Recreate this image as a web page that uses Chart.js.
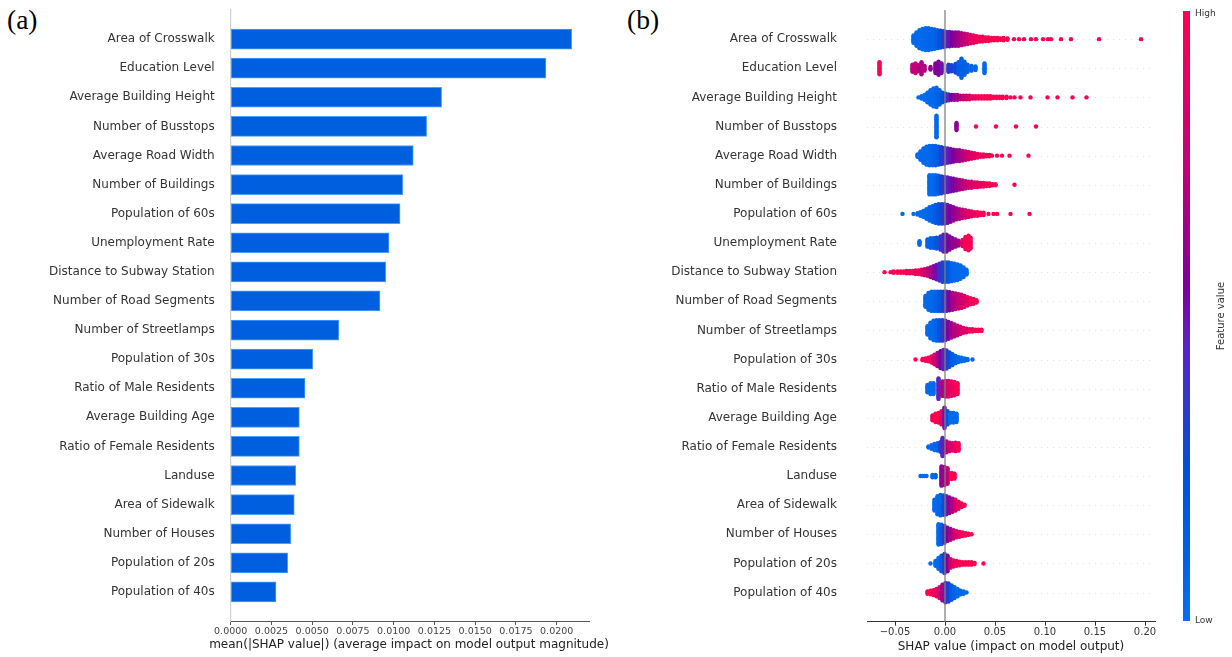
<!DOCTYPE html>
<html>
<head>
<meta charset="utf-8">
<script src="https://cdn.jsdelivr.net/npm/chart.js@4.4.0/dist/chart.umd.min.js"></script>
<style>
  html, body { margin: 0; padding: 0; background: #fff; width: 1232px; height: 657px; overflow: hidden; }
  .panel { position: absolute; top: 0; width: 616px; height: 657px; }
  .tag { position: absolute; font-family: 'Liberation Serif', 'Times New Roman', serif; font-size: 27.5px; line-height: 27.5px; color: #000; }
</style>
</head>
<body>
<div class="tag" style="left:7px;top:6px">(a)</div>
<div class="tag" style="left:627px;top:6px">(b)</div>
<div class="panel" style="left:0"><canvas id="barChart" width="616" height="657"></canvas></div>
<div class="panel" style="left:616px"><canvas id="swarmChart" width="616" height="657"></canvas></div>

<script>
// ---- feature names (top to bottom) ----
const FEATURES = [
  'Area of Crosswalk', 'Education Level', 'Average Building Height', 'Number of Busstops',
  'Average Road Width', 'Number of Buildings', 'Population of 60s', 'Unemployment Rate',
  'Distance to Subway Station', 'Number of Road Segments', 'Number of Streetlamps',
  'Population of 30s', 'Ratio of Male Residents', 'Average Building Age',
  'Ratio of Female Residents', 'Landuse', 'Area of Sidewalk', 'Number of Houses',
  'Population of 20s', 'Population of 40s'
];

// ---- (a) mean |SHAP| per feature ----
const MEAN_ABS_SHAP = [
  0.02092, 0.01934, 0.01294, 0.01202, 0.01120, 0.01055, 0.01039, 0.00971, 0.00951, 0.00916,
  0.00663, 0.00503, 0.00456, 0.00421, 0.00421, 0.00399, 0.00390, 0.00368, 0.00350, 0.00278
];
const BAR_TICKS = [0, 0.0025, 0.005, 0.0075, 0.01, 0.0125, 0.015, 0.0175, 0.02];
const BAR_TICK_LABELS = ['0.0000', '0.0025', '0.0050', '0.0075', '0.0100', '0.0125', '0.0150', '0.0175', '0.0200'];
const BAR_AXIS_TITLE = 'mean(|SHAP value|) (average impact on model output magnitude)';

// ---- (b) SHAP value distributions: [shap value, number of samples, normalised feature value] ----
const SW_CROSSWALK = [
  [-0.0315,7,0.05],[-0.0285,12,0.05],[-0.0255,16,0.05],[-0.0225,18,0.05],[-0.0195,19,0.06],
  [-0.0165,19,0.07],[-0.0135,18,0.08],[-0.0105,17,0.1],[-0.0075,16,0.15],[-0.0045,15,0.25],
  [-0.0015,14,0.35],[0.0015,13,0.45],[0.0045,13,0.5],[0.0075,12,0.55],[0.0105,12,0.6],
  [0.0135,12,0.65],[0.0165,11,0.7],[0.0195,10,0.75],[0.0225,9,0.8],[0.0255,8,0.85],
  [0.0285,7,0.9],[0.0315,6,0.93],[0.0345,5,0.95],[0.0375,5,0.97],[0.0405,4,1],[0.0435,4,1],
  [0.0465,3,1],[0.0495,3,1],[0.0525,3,1],[0.0555,2,1],[0.0585,3,1],[0.0625,2,1],
  [0.069,1,1],[0.074,1,1],[0.079,1,1],[0.086,1,1],[0.091,1,1],[0.098,1,1],[0.103,1,1],
  [0.106,1,1],[0.116,1,1],[0.126,1,1],[0.154,1,1],[0.196,1,1]
];
const SW_EDUCATION = [
  [-0.0655,11,1],[-0.0325,7,0.75],[-0.0295,9,0.75],[-0.0265,6,0.72],[-0.0235,11,0.7],
  [-0.0205,5,0.7],[-0.0145,3,0.6],[-0.0095,9,0.55],[-0.0065,12,0.55],[-0.0035,9,0.5],
  [0.0035,7,0.35],[0.0065,6,0.3],[0.0105,8,0.3],[0.0135,11,0.15],[0.0165,17,0.12],
  [0.0195,12,0.12],[0.0225,7,0.1],[0.0265,5,0.08],[0.0305,4,0.05],[0.0395,9,0.05]
];
const SW_BLDG_HEIGHT = [
  [-0.0265,1,0.05],[-0.0235,3,0.05],[-0.0205,5,0.05],[-0.0175,9,0.05],[-0.0145,13,0.05],
  [-0.0115,16,0.05],[-0.0085,17,0.08],[-0.0055,13,0.12],[-0.0025,9,0.2],[0.0005,7,0.35],
  [0.0035,6,0.45],[0.0065,5,0.55],[0.0095,5,0.6],[0.0125,5,0.65],[0.0155,4,0.7],
  [0.0185,4,0.75],[0.0215,4,0.8],[0.0245,4,0.85],[0.0275,3,0.9],[0.0305,3,0.92],
  [0.0335,3,0.95],[0.0365,3,0.97],[0.0395,3,1],[0.0425,3,1],[0.0455,3,1],[0.0485,2,1],
  [0.0515,2,1],[0.0545,2,1],[0.0575,2,1],[0.0615,2,1],[0.0655,1,1],[0.0695,1,1],[0.0755,1,1],
  [0.0855,1,1],[0.1025,1,1],[0.1125,1,1],[0.1275,1,1],[0.1415,1,1]
];
const SW_BUSSTOPS = [
  [-0.0085,19,0.05],[0.0115,7,0.6],[0.031,1,1],[0.051,1,1],[0.071,1,1],[0.091,1,1]
];
const SW_ROAD_WIDTH = [
  [-0.0275,3,0.05],[-0.0245,8,0.05],[-0.0215,13,0.05],[-0.0185,16,0.05],[-0.0155,17,0.05],
  [-0.0125,17,0.08],[-0.0095,17,0.12],[-0.0065,16,0.18],[-0.0035,15,0.3],[-0.0005,14,0.4],
  [0.0025,13,0.45],[0.0055,12,0.5],[0.0085,11,0.55],[0.0115,10,0.6],[0.0145,10,0.65],
  [0.0175,9,0.7],[0.0205,8,0.75],[0.0235,7,0.8],[0.0265,6,0.85],[0.0295,5,0.9],
  [0.0325,4,0.92],[0.0355,3,0.95],[0.0385,3,0.97],[0.0415,2,1],[0.0445,2,1],
  [0.047,1,1],[0.052,1,1],[0.057,1,1],[0.0645,1,1],[0.0835,1,1]
];
const SW_BUILDINGS = [
  [-0.0155,17,0.05],[-0.0125,17,0.05],[-0.0095,17,0.08],[-0.0065,16,0.15],[-0.0035,15,0.3],
  [-0.0005,14,0.4],[0.0025,13,0.45],[0.0055,12,0.5],[0.0085,11,0.55],[0.0115,10,0.6],
  [0.0145,9,0.65],[0.0175,8,0.7],[0.0205,7,0.75],[0.0235,6,0.8],[0.0265,6,0.85],
  [0.0295,5,0.88],[0.0325,5,0.9],[0.0355,4,0.93],[0.0385,4,0.95],[0.0415,3,0.97],
  [0.0445,3,1],[0.0475,2,1],[0.0505,2,1],[0.0695,1,1]
];
const SW_POP60 = [
  [-0.0425,1,0.05],[-0.0315,1,0.05],[-0.0275,2,0.05],[-0.0245,4,0.05],[-0.0215,6,0.05],
  [-0.0185,9,0.05],[-0.0155,12,0.08],[-0.0125,14,0.1],[-0.0095,16,0.15],[-0.0065,17,0.2],
  [-0.0035,17,0.3],[-0.0005,17,0.4],[0.0025,16,0.5],[0.0055,14,0.55],[0.0085,12,0.6],
  [0.0115,10,0.65],[0.0145,9,0.7],[0.0175,8,0.75],[0.0205,7,0.8],[0.0235,6,0.85],
  [0.0265,5,0.9],[0.0295,4,0.92],[0.0325,4,0.95],[0.0355,3,0.97],[0.0385,3,1],
  [0.0435,1,1],[0.0485,1,1],[0.052,1,1],[0.0655,1,1],[0.0845,1,1]
];
const SW_UNEMPLOYMENT = [
  [-0.0255,4,0.05],[-0.0175,7,0.08],[-0.0145,9,0.1],[-0.0115,9,0.12],[-0.0085,10,0.2],
  [-0.0045,12,0.35],[-0.0015,15,0.45],[0.0015,15,0.5],[0.0045,12,0.55],[0.0075,9,0.6],
  [0.0105,7,0.62],[0.0135,5,0.65],[0.0175,6,0.9],[0.0205,11,0.95],[0.0235,13,1],[0.0255,10,1]
];
const SW_SUBWAY = [
  [-0.0605,1,1],[-0.0545,1,1],[-0.0515,2,1],[-0.0475,2,1],[-0.0445,2,1],[-0.0415,2,1],
  [-0.0385,3,0.97],[-0.0355,3,0.95],[-0.0325,3,0.95],[-0.0295,4,0.92],[-0.0265,4,0.9],
  [-0.0235,5,0.85],[-0.0205,6,0.8],[-0.0175,7,0.75],[-0.0145,9,0.68],[-0.0115,11,0.6],
  [-0.0085,13,0.5],[-0.0055,15,0.4],[-0.0025,17,0.32],[0.0005,17,0.25],[0.0035,17,0.18],
  [0.0065,16,0.1],[0.0095,15,0.06],[0.0125,14,0.05],[0.0155,12,0.05],[0.0185,9,0.05],[0.0215,5,0.05]
];
const SW_ROAD_SEGMENTS = [
  [-0.0195,10,0.05],[-0.0165,15,0.05],[-0.0135,17,0.05],[-0.0105,17,0.08],[-0.0075,17,0.12],
  [-0.0045,17,0.2],[-0.0015,17,0.35],[0.0015,17,0.45],[0.0045,16,0.55],[0.0075,15,0.65],
  [0.0105,14,0.7],[0.0135,13,0.75],[0.0165,12,0.8],[0.0195,10,0.85],[0.0225,8,0.9],
  [0.0255,6,0.95],[0.0285,5,0.97],[0.0315,3,1]
];
const SW_STREETLAMPS = [
  [-0.0175,8,0.05],[-0.0145,14,0.05],[-0.0115,17,0.05],[-0.0085,18,0.1],[-0.0055,18,0.2],
  [-0.0025,18,0.35],[0.0005,17,0.45],[0.0035,15,0.55],[0.0065,13,0.65],[0.0095,11,0.7],
  [0.0125,9,0.75],[0.0155,7,0.8],[0.0185,5,0.85],[0.0215,4,0.9],[0.0245,3,0.92],
  [0.0275,3,0.95],[0.0305,2,0.97],[0.0335,2,1],[0.0365,2,1]
];
const SW_POP30 = [
  [-0.0295,1,1],[-0.0225,2,1],[-0.0195,3,1],[-0.0165,4,0.95],[-0.0135,6,0.9],[-0.0105,9,0.8],
  [-0.0075,12,0.7],[-0.0045,15,0.55],[-0.0015,17,0.45],[0.0015,16,0.35],[0.0045,13,0.25],
  [0.0075,10,0.15],[0.0105,7,0.1],[0.0135,5,0.05],[0.0165,4,0.05],[0.0195,3,0.05],
  [0.0225,2,0.05],[0.0275,1,0.05]
];
const SW_MALE = [
  [-0.0175,7,0.05],[-0.0145,10,0.05],[-0.0115,10,0.05],[-0.0065,18,0.45],[-0.0025,13,0.7],
  [0.0005,14,0.8],[0.0035,14,0.85],[0.0065,13,0.9],[0.0095,12,0.95],[0.0125,10,1]
];
const SW_BLDG_AGE = [
  [-0.0125,5,0.95],[-0.0095,8,1],[-0.0065,9,1],[-0.0035,12,0.9],[-0.0005,18,0.5],
  [0.0025,12,0.2],[0.0055,9,0.05],[0.0085,9,0.05],[0.0115,8,0.05]
];
const SW_FEMALE = [
  [-0.0165,2,0.05],[-0.0135,4,0.05],[-0.0105,6,0.08],[-0.0075,7,0.1],[-0.0045,9,0.25],
  [-0.0025,16,0.45],[0.0015,10,0.7],[0.0045,8,0.8],[0.0075,7,0.85],[0.0105,8,0.9],[0.0135,7,1]
];
const SW_LANDUSE = [
  [-0.0245,1,0.05],[-0.0225,1,0.05],[-0.0205,1,0.05],[-0.0185,1,0.05],[-0.0125,3,0.05],
  [-0.0095,3,0.08],[-0.0035,17,0.6],[-0.0005,16,0.65],[0.0025,14,0.75],[0.0065,6,1],[0.0095,5,1]
];
const SW_SIDEWALK = [
  [-0.0105,10,0.05],[-0.0075,16,0.05],[-0.0045,18,0.1],[-0.0015,17,0.25],[0.0015,16,0.45],
  [0.0045,14,0.6],[0.0075,12,0.7],[0.0105,10,0.8],[0.0135,7,0.9],[0.0165,4,0.95],[0.0195,2,1]
];
const SW_HOUSES = [
  [-0.0065,18,0.05],[-0.0035,17,0.15],[-0.0005,15,0.4],[0.0025,12,0.55],[0.0055,10,0.65],
  [0.0085,8,0.75],[0.0115,6,0.85],[0.0145,5,0.9],[0.0175,4,0.95],[0.0205,3,1],[0.0235,2,1],[0.0265,1,1]
];
const SW_POP20 = [
  [-0.0145,1,0.05],[-0.0095,5,0.05],[-0.0065,10,0.05],[-0.0035,14,0.15],[-0.0005,17,0.35],
  [0.0025,14,0.55],[0.0055,8,0.8],[0.0085,6,0.9],[0.0115,5,0.95],[0.0145,4,1],[0.0175,3,1],
  [0.0205,3,1],[0.0235,3,1],[0.0265,3,1],[0.0295,2,1],[0.0385,1,1]
];
const SW_POP40 = [
  [-0.0175,3,1],[-0.0145,4,1],[-0.0115,5,0.95],[-0.0085,7,0.9],[-0.0055,10,0.8],
  [-0.0025,14,0.65],[0.0005,17,0.45],[0.0035,16,0.3],[0.0065,13,0.15],[0.0095,10,0.1],
  [0.0125,7,0.05],[0.0155,4,0.05],[0.0185,3,0.05],[0.0215,1,0.05]
];
const SWARMS = [
  SW_CROSSWALK, SW_EDUCATION, SW_BLDG_HEIGHT, SW_BUSSTOPS, SW_ROAD_WIDTH, SW_BUILDINGS,
  SW_POP60, SW_UNEMPLOYMENT, SW_SUBWAY, SW_ROAD_SEGMENTS, SW_STREETLAMPS, SW_POP30,
  SW_MALE, SW_BLDG_AGE, SW_FEMALE, SW_LANDUSE, SW_SIDEWALK, SW_HOUSES, SW_POP20, SW_POP40
];
const SWARM_TICKS = [-0.05, 0, 0.05, 0.1, 0.15, 0.2];
const SWARM_TICK_LABELS = ['\u22120.05', '0.00', '0.05', '0.10', '0.15', '0.20'];

// ---- shared styling ----
const FONT = 'DejaVu Sans';
const BAR_FILL = '#005fdf';
const BAR_EDGE = '#4aa0ff';

// blue -> purple -> red colour map for feature values
const CMAP = [
  [0.00, [0, 112, 240]],
  [0.25, [0, 80, 218]],
  [0.45, [88, 36, 196]],
  [0.55, [126, 0, 156]],
  [0.75, [196, 0, 118]],
  [1.00, [255, 0, 82]]
];
function cmap(t) {
  t = Math.max(0, Math.min(1, t));
  for (let i = 1; i < CMAP.length; i++) {
    if (t <= CMAP[i][0]) {
      const [t0, c0] = CMAP[i - 1], [t1, c1] = CMAP[i];
      const f = (t - t0) / (t1 - t0);
      const c = c0.map((v, k) => Math.round(v + (c1[k] - v) * f));
      return `rgb(${c[0]},${c[1]},${c[2]})`;
    }
  }
  return 'rgb(255,0,82)';
}

// vertical spacing of stacked samples, in pixels; rows are 1 unit apart
const ROW_PX = 611 / 21;
const STACK_PX = 1.2;

// keep the plot area flush with the layout padding (no extra room for end labels)
const noEdgePadding = s => { s.paddingTop = 0; s.paddingBottom = 0; };

// the long x-axis caption is wider than the plot, so it is drawn without width clamping
const barAxisTitle = {
  id: 'barAxisTitle',
  afterDraw(chart) {
    const { ctx, chartArea } = chart;
    ctx.save();
    ctx.fillStyle = '#222';
    ctx.font = `12px ${FONT}`;
    ctx.textAlign = 'center';
    ctx.textBaseline = 'middle';
    ctx.fillText(BAR_AXIS_TITLE, (chartArea.left + chartArea.right) / 2 - 1, 645);
    ctx.restore();
  }
};

// ================= (a) bar chart =================
new Chart(document.getElementById('barChart'), {
  type: 'bar',
  data: {
    datasets: [{
      data: MEAN_ABS_SHAP.map((v, i) => ({ x: v, y: i })),
      backgroundColor: BAR_FILL,
      borderColor: BAR_EDGE,
      borderWidth: 1,
      borderSkipped: false,
      barThickness: 20
    }]
  },
  options: {
    indexAxis: 'y',
    responsive: false,
    animation: false,
    events: [],
    layout: { padding: { top: 10, right: 26.7, bottom: 0, left: 0 } },
    plugins: { legend: { display: false }, tooltip: { enabled: false } },
    scales: {
      x: {
        type: 'linear', min: 0, max: 0.022,
        afterBuildTicks: s => { s.ticks = BAR_TICKS.map(v => ({ value: v })); },
        afterFit: s => { s.height = 36; },
        ticks: {
          autoSkip: false, maxRotation: 0, padding: 1, color: '#444',
          font: { family: FONT, size: 9.5 },
          callback: (v) => BAR_TICK_LABELS[BAR_TICKS.indexOf(v)] ?? ''
        },
        grid: { display: true, drawOnChartArea: false, drawTicks: true, tickLength: 4, color: '#555' },
        border: { display: true, color: '#555', width: 1 },
        title: { display: false }
      },
      y: {
        type: 'linear', min: -1, max: 20, reverse: true, offset: false,
        afterBuildTicks: s => { s.ticks = FEATURES.map((_, i) => ({ value: i })); },
        afterFit: s => { s.width = 230.7; noEdgePadding(s); },
        ticks: {
          autoSkip: false, padding: 8, color: '#333',
          font: { family: FONT, size: 12 },
          callback: (v) => FEATURES[v] ?? ''
        },
        grid: { display: false, offset: false },
        border: { display: true, color: '#cfcfcf', width: 1.2 }
      }
    }
  },
  plugins: [barAxisTitle]
});

// ================= (b) beeswarm =================
const points = [], colors = [];
SWARMS.forEach((bins, row) => {
  bins.forEach(([v, n, f]) => {
    for (let k = 0; k < n; k++) {
      const off = (k - (n - 1) / 2) * STACK_PX / ROW_PX;
      points.push({ x: v, y: row + off });
      colors.push(cmap(f));
    }
  });
});

const swarmDecor = {
  id: 'swarmDecor',
  beforeDatasetsDraw(chart) {
    const { ctx, chartArea, scales: { y } } = chart;
    ctx.save();
    ctx.strokeStyle = '#cccccc';
    ctx.lineWidth = 0.6;
    ctx.setLineDash([1, 5]);
    FEATURES.forEach((_, i) => {
      const py = Math.round(y.getPixelForValue(i)) + 0.5;
      ctx.beginPath();
      ctx.moveTo(chartArea.left, py);
      ctx.lineTo(chartArea.right, py);
      ctx.stroke();
    });
    ctx.restore();
  },
  afterDatasetsDraw(chart) {
    const { ctx, chartArea, scales: { x } } = chart;
    const px = x.getPixelForValue(0);
    ctx.save();
    ctx.strokeStyle = 'rgba(128,128,128,0.9)';
    ctx.lineWidth = 1.4;
    ctx.beginPath();
    ctx.moveTo(px, chartArea.top);
    ctx.lineTo(px, chartArea.bottom);
    ctx.stroke();
    ctx.restore();
  },
  afterDraw(chart) {
    const { ctx } = chart;
    const cbLeft = 567, cbWidth = 7, cbTop = 11, cbBottom = 621;
    ctx.save();
    const g = ctx.createLinearGradient(0, cbBottom, 0, cbTop);
    CMAP.forEach(([t]) => g.addColorStop(t, cmap(t)));
    ctx.fillStyle = g;
    ctx.fillRect(cbLeft, cbTop, cbWidth, cbBottom - cbTop);
    ctx.fillStyle = '#333';
    ctx.font = `9px ${FONT}`;
    ctx.textAlign = 'left';
    ctx.textBaseline = 'middle';
    ctx.fillText('High', cbLeft + 12, cbTop + 3);
    ctx.fillText('Low', cbLeft + 12, cbBottom);
    ctx.font = `10px ${FONT}`;
    ctx.translate(605, 316);
    ctx.rotate(-Math.PI / 2);
    ctx.textAlign = 'center';
    ctx.fillText('Feature value', 0, 0);
    ctx.restore();
  }
};

new Chart(document.getElementById('swarmChart'), {
  type: 'scatter',
  data: {
    datasets: [{
      data: points,
      pointBackgroundColor: colors,
      pointBorderWidth: 0,
      pointRadius: 2.2,
      pointHoverRadius: 2.2
    }]
  },
  options: {
    responsive: false,
    animation: false,
    events: [],
    layout: { padding: { top: 10, right: 77, bottom: 0, left: 0 } },
    plugins: { legend: { display: false }, tooltip: { enabled: false } },
    scales: {
      x: {
        type: 'linear', min: -0.078, max: 0.21,
        afterBuildTicks: s => { s.ticks = SWARM_TICKS.map(v => ({ value: v })); },
        afterFit: s => { s.height = 35.3; },
        ticks: {
          autoSkip: false, maxRotation: 0, padding: 1, color: '#333',
          font: { family: FONT, size: 10 },
          callback: (v) => SWARM_TICK_LABELS[SWARM_TICKS.indexOf(v)] ?? ''
        },
        grid: { display: true, drawOnChartArea: false, drawTicks: true, tickLength: 4, color: '#333' },
        border: { display: true, color: '#333', width: 1 },
        title: {
          display: true, text: 'SHAP value (impact on model output)',
          color: '#222', font: { family: FONT, size: 12 }, padding: { top: 0, bottom: 2.5 }
        }
      },
      y: {
        type: 'linear', min: -1, max: 20, reverse: true, offset: false,
        afterBuildTicks: s => { s.ticks = FEATURES.map((_, i) => ({ value: i })); },
        afterFit: s => { s.width = 251; noEdgePadding(s); },
        ticks: {
          autoSkip: false, padding: 22, color: '#333',
          font: { family: FONT, size: 12 },
          callback: (v) => FEATURES[v] ?? ''
        },
        grid: { display: false },
        border: { display: false }
      }
    }
  },
  plugins: [swarmDecor]
});
</script>
</body>
</html>
